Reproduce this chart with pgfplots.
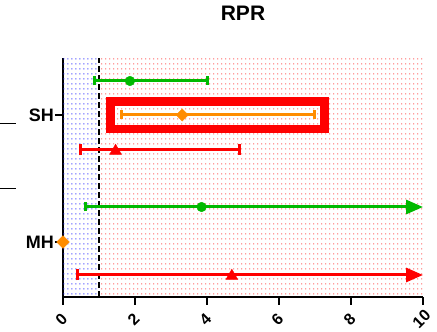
\documentclass[border=0pt]{standalone}
\usepackage{fontspec}
\setmainfont{Liberation Sans}
\usepackage{pgfplots}
\pgfplotsset{compat=1.18}
\usetikzlibrary{patterns.meta, arrows.meta}
\definecolor{cgreen}{RGB}{0,185,0}
\definecolor{corange}{RGB}{255,140,0}
\definecolor{cred}{RGB}{255,0,0}
\tikzdeclarepattern{
  name=gdots,
  type=uncolored,
  bounding box={(0,0) and (4.2pt,4.5pt)},
  tile size={(4.2pt,4.5pt)},
  code={\pgfpathrectangle{\pgfpoint{1.55pt}{1.7pt}}{\pgfpoint{1.1pt}{1.1pt}}\pgfusepath{fill}}
}
\begin{document}
\begin{tikzpicture}
\useasboundingbox (-63pt,-35pt) rectangle (374pt,297pt);
\begin{axis}[
  at={(0,0)}, anchor=south west,
  x=36pt, y=1pt,
  xmin=0, xmax=10, ymin=0, ymax=239,
  axis x line=bottom, axis y line=left,
  axis line style={-, line width=2.3pt, black},
  tick align=outside, major tick length=8pt,
  tick style={line width=2pt, black},
  xtick={0,2,...,10}, ytick={55,182}, yticklabels={MH,SH},
  minor tick num=0,
  clip=false,
  /pgf/number format/assume math mode=true,
  xticklabel style={font=\bfseries\fontsize{16}{16}\selectfont, inner sep=0pt, xshift=-1.5pt, yshift=-14pt, rotate=45, anchor=center},
  yticklabel style={font=\bfseries\fontsize{18}{18}\selectfont, inner sep=0pt, anchor=east, xshift=-1pt},
  title={RPR},
  title style={font=\bfseries\fontsize{21}{21}\selectfont, at={(0.5,1)}, anchor=center, yshift=38.5pt},
]
% background regions
\addplot[draw=none, pattern=gdots, pattern color=blue!85] coordinates {(0,239) (1,239)} \closedcycle;
\addplot[draw=none, pattern=gdots, pattern color=red!90] coordinates {(1,239) (10,239)} \closedcycle;
\addplot[black, line width=2.5pt, dash pattern=on 6pt off 3pt] coordinates {(1,0) (1,239)};
% SH
\addplot[cgreen, line width=3pt, {Bar[width=9pt]}-{Bar[width=9pt]}] coordinates {(0.84,216) (4.06,216)};
\addplot[only marks, mark=*, cgreen, mark size=4.8pt] coordinates {(1.86,216)};
\addplot[corange, line width=3pt, {Bar[width=9pt]}-{Bar[width=9pt]}] coordinates {(1.58,182) (7.02,182)};
\addplot[only marks, mark=square*, mark options={rotate=45}, corange, mark size=4.3pt] coordinates {(3.31,182)};
\addplot[cred, line width=3pt, {Bar[width=11pt]}-{Bar[width=11pt]}] coordinates {(0.45,147) (4.95,147)};
\addplot[only marks, mark=triangle*, cred, mark size=6.8pt] coordinates {(1.46,146)};
% MH
\addplot[cgreen, line width=3pt, {Bar[width=9pt]}-{Triangle[length=17pt,width=14pt]}] coordinates {(0.59,90) (10,90)};
\addplot[only marks, mark=*, cgreen, mark size=4.8pt] coordinates {(3.85,90)};
\addplot[only marks, mark=square*, mark options={rotate=45}, corange, mark size=4.5pt] coordinates {(0,55)};
\addplot[cred, line width=3pt, {Bar[width=11pt]}-{Triangle[length=17pt,width=14pt]}] coordinates {(0.36,22) (10,22)};
\addplot[only marks, mark=triangle*, cred, mark size=6.8pt] coordinates {(4.69,21)};
% highlight box
\draw[cred, line width=8.5pt] (axis cs:1.32,168) rectangle (axis cs:7.26,195.5);
\end{axis}
\draw[black, line width=1pt] (-63pt,173pt) -- (-47pt,173pt);
\draw[black, line width=1pt] (-63pt,108pt) -- (-47pt,108pt);
\end{tikzpicture}
\end{document}
